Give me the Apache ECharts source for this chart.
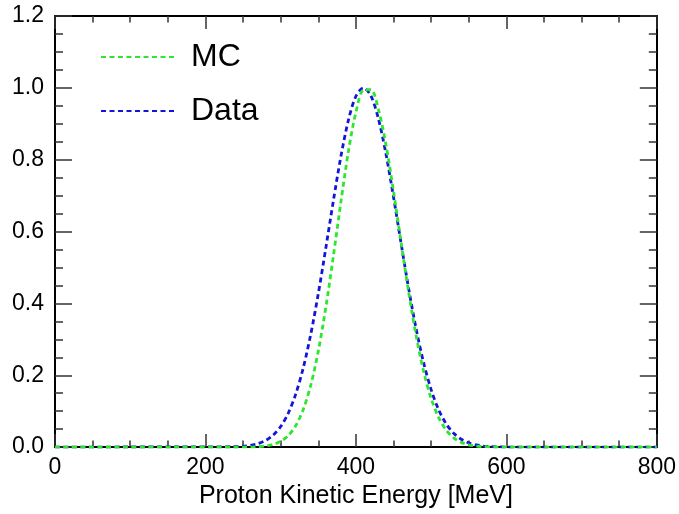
<!DOCTYPE html>
<html>
<head>
<meta charset="utf-8">
<script src="https://cdn.jsdelivr.net/npm/echarts@6/dist/echarts.min.js"></script>
<style>
  html, body { margin: 0; padding: 0; background: #fff; }
  #chart { width: 679px; height: 514px; }
</style>
</head>
<body>
<div id="chart"></div>
<script>
// ---- data ----
const energies   = [0, 240, 250, 260, 270, 280, 290, 300, 310, 320, 330, 340, 350, 360, 370, 380, 390, 400, 410,
                    420, 430, 440, 450, 460, 470, 480, 490, 500, 510, 520, 530, 540, 550, 560, 570, 580, 590, 600, 800];
const mcValues   = [0, 0, 0, 0, 0.0014, 0.0034, 0.0076, 0.0160, 0.0319, 0.0596, 0.1046, 0.1724, 0.2671, 0.3886, 0.5311, 0.6819, 0.8226, 0.9321, 0.9940,
                    0.9950, 0.9396, 0.8411, 0.7124, 0.5709, 0.4328, 0.3105, 0.2108, 0.1353, 0.0822, 0.0473, 0.0257, 0.0132, 0.0064, 0.0030, 0.0013, 0.0005, 0, 0, 0];
const dataValues = [0, 0.0010, 0.0024, 0.0049, 0.0098, 0.0185, 0.0333, 0.0573, 0.0941, 0.1475, 0.2204, 0.3142, 0.4271, 0.5539, 0.6852, 0.8084, 0.9098, 0.9767, 1.0000,
                    0.9776, 0.9135, 0.8157, 0.6962, 0.5679, 0.4427, 0.3299, 0.2349, 0.1599, 0.1040, 0.0646, 0.0384, 0.0218, 0.0118, 0.0061, 0.0030, 0.0014, 0.0006, 0, 0];
const seriesNames = ['MC', 'Data'];
const xTickLabels = [0, 200, 400, 600, 800];
const yTickLabels = ['0.0', '0.2', '0.4', '0.6', '0.8', '1.0', '1.2'];
const xTitle = 'Proton Kinetic Energy [MeV]';

const mcPairs = energies.map((e, i) => [e, mcValues[i]]);
const dataPairs = energies.map((e, i) => [e, dataValues[i]]);

const FONT = 'Liberation Sans, Arial, Helvetica, sans-serif';
const xMin = xTickLabels[0], xMax = xTickLabels[xTickLabels.length - 1];
const yMin = parseFloat(yTickLabels[0]), yMax = parseFloat(yTickLabels[yTickLabels.length - 1]);

function xAxisCfg(pos, showLabels) {
  return {
    type: 'value', position: pos, min: xMin, max: xMax, interval: 200,
    name: showLabels ? xTitle : '',
    nameLocation: 'middle', nameGap: 39,
    nameTextStyle: { fontFamily: FONT, fontSize: 25, color: '#000', verticalAlign: 'middle' },
    axisLine: { show: true, onZero: false, lineStyle: { color: '#000', width: 2 } },
    axisTick: { show: true, inside: true, length: 13, lineStyle: { color: '#333', width: 1.5 } },
    minorTick: { show: true, splitNumber: 4, length: 6.5, lineStyle: { color: '#333', width: 1.5 } },
    axisLabel: { show: showLabels, margin: 9, fontFamily: FONT, fontSize: 23, color: '#000' },
    splitLine: { show: false }
  };
}
function yAxisCfg(pos, showLabels) {
  return {
    type: 'value', position: pos, min: yMin, max: yMax, interval: 0.2,
    axisLine: { show: true, onZero: false, lineStyle: { color: '#000', width: 2 } },
    axisTick: { show: true, inside: true, length: 17, lineStyle: { color: '#333', width: 1.5 } },
    minorTick: { show: true, splitNumber: 4, length: 8, lineStyle: { color: '#333', width: 1.5 } },
    axisLabel: { show: showLabels, margin: 11, fontFamily: FONT, fontSize: 23, color: '#000',
                 formatter: v => v.toFixed(1) },
    splitLine: { show: false }
  };
}

const chart = echarts.init(document.getElementById('chart'), null, { renderer: 'canvas' });
chart.setOption({
  animation: false,
  backgroundColor: '#fff',
  grid: { left: 55, right: 21, top: 16, bottom: 58, containLabel: false },
  legend: {
    orient: 'vertical', left: 100, top: 41, padding: 0,
    itemWidth: 75, itemHeight: 20, itemGap: 22,
    data: seriesNames,
    itemStyle: { opacity: 0, borderWidth: 0 },
    textStyle: { fontFamily: FONT, fontSize: 32, color: '#000', padding: [0, 0, 0, 10] }
  },
  xAxis: [xAxisCfg('bottom', true), xAxisCfg('top', false)],
  yAxis: [yAxisCfg('left', true), yAxisCfg('right', false)],
  series: [
    {
      name: seriesNames[0], type: 'line', data: mcPairs, xAxisIndex: 0, yAxisIndex: 0,
      showSymbol: false, symbol: 'none', smooth: 0.3, z: 3,
      lineStyle: { color: '#2ee62e', width: 2.8, type: [5, 3.5] },
      itemStyle: { color: '#2ee62e' }
    },
    {
      name: seriesNames[1], type: 'line', data: dataPairs, xAxisIndex: 0, yAxisIndex: 0,
      showSymbol: false, symbol: 'none', smooth: 0.3, z: 2,
      lineStyle: { color: '#1414dc', width: 2.8, type: [5, 3.5] },
      itemStyle: { color: '#1414dc' }
    }
  ]
});
</script>
</body>
</html>
